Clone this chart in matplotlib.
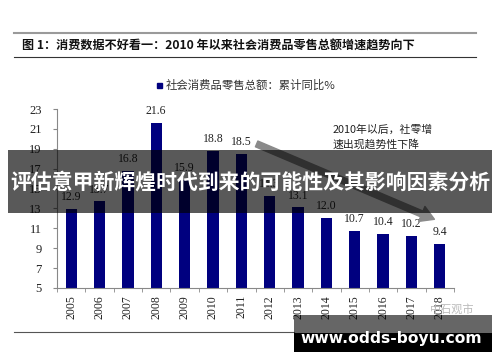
import numpy as np
import matplotlib
matplotlib.use('Agg')
import matplotlib.pyplot as plt
from matplotlib.lines import Line2D
from matplotlib.patches import Rectangle, FancyArrowPatch

plt.rcParams['font.family'] = ['Noto Sans CJK SC', 'DejaVu Sans']

# data
years = ['2005', '2006', '2007', '2008', '2009', '2010', '2011',
         '2012', '2013', '2014', '2015', '2016', '2017', '2018']
growth = [12.9, 13.7, 16.8, 21.6, 15.9, 18.8, 18.5,
          14.3, 13.1, 12.0, 10.7, 10.4, 10.2, 9.4]
yticks = [5, 7, 9, 11, 13, 15, 17, 19, 21, 23]

title = '图 1：消费数据不好看一：2010 年以来社会消费品零售总额增速趋势向下'
legend_label = '社会消费品零售总额：累计同比%'
note = '2010年以后，社零增\n速出现趋势性下降'
banner = '评估意甲新辉煌时代到来的可能性及其影响因素分析'
site = 'www.odds-boyu.com'

W, H = 500, 362
def fx(x):
    return x / W
def fy(y):
    return 1 - y / H

fig = plt.figure(figsize=(5, 3.62), dpi=100)
fig.patch.set_facecolor('white')
ax = fig.add_axes([fx(57), fy(288), fx(454) - fx(57), fy(109) - fy(288)])

navy = '#00007f'
xs = np.arange(len(years))
ax.bar(xs, growth, width=0.4, color=navy, zorder=2)
for x, v in zip(xs, growth):
    ax.annotate('%.1f' % v, (x, v), xytext=(0, 8.6), textcoords='offset points',
                ha='center', va='center', fontsize=8.5,
                family='Liberation Serif', color='#222222')

ax.set_xlim(-0.5, len(years) - 0.5)
ax.set_ylim(5, 23)
ax.set_yticks(yticks)
ax.set_yticklabels([str(t) for t in yticks], family='Liberation Serif',
                   fontsize=9, color='#222222')
ax.set_xticks(xs)
ax.set_xticklabels(years, rotation=90, family='Liberation Serif',
                   fontsize=8.5, color='#222222')
ax.tick_params(axis='x', length=0, pad=5)
ax.set_xticks(np.arange(-0.5, len(years), 1), minor=True)
ax.tick_params(axis='x', which='minor', length=3, color='#888888', direction='out')
ax.tick_params(axis='y', length=3, color='#888888', direction='out', pad=8)
for s in ['top', 'right']:
    ax.spines[s].set_visible(False)
ax.spines['left'].set_color('#888888')
ax.spines['bottom'].set_color('#888888')
ax.spines['left'].set_linewidth(0.8)
ax.spines['bottom'].set_linewidth(0.8)

# trend arrow
arr = FancyArrowPatch((6.45, 19.6), (12.9, 11.8),
                      arrowstyle='simple,head_width=1.3,head_length=1.1,tail_width=0.5',
                      mutation_scale=9, color='#8a8a8a', clip_on=False, zorder=3)
ax.add_patch(arr)
ax.text(9.2, 20.2, note, fontsize=7.8, color='#222222', va='center', ha='left',
        linespacing=1.5)

# header
fig.add_artist(Line2D([fx(14), fx(476)], [fy(33), fy(33)], color='#9a9a9a', lw=1.5))
fig.add_artist(Line2D([fx(14), fx(476)], [fy(57), fy(57)], color='#333333', lw=0.8))
fig.text(fx(22), fy(46), title, fontsize=8.7, fontweight='bold', va='center',
         ha='left', color='#111111')

# legend
fig.add_artist(Rectangle((fx(157), fy(88)), 5 / W, 5 / H, color=navy,
                         transform=fig.transFigure))
fig.text(fx(166), fy(85), legend_label, fontsize=8.2, va='center', ha='left',
         color='#333333')

# footer line and faint watermark
fig.add_artist(Line2D([fx(14), fx(294)], [fy(332), fy(332)], color='#555555', lw=0.8))
fig.text(fx(452), fy(309), '中石观市', fontsize=8, color='#bbbbbb', va='center', ha='center')

# overlay banner
fig.add_artist(Rectangle((fx(8), fy(213)), (492 - 8) / W, (213 - 150) / H,
                         facecolor='black', alpha=0.65, edgecolor='none',
                         transform=fig.transFigure, zorder=10))
fig.text(0.5, fy(182), banner, fontsize=15, fontweight='bold', color='white',
         ha='center', va='center', zorder=11)

# site box
fig.add_artist(Rectangle((fx(294), fy(333)), (492 - 294) / W, (333 - 315) / H,
                         facecolor='black', alpha=0.6, edgecolor='none',
                         transform=fig.transFigure, zorder=10))
fig.add_artist(Rectangle((fx(294), fy(352)), (492 - 294) / W, (352 - 333) / H,
                         facecolor='black', edgecolor='none',
                         transform=fig.transFigure, zorder=10))
fig.text(fx(391), fy(338), site, fontsize=11.2, fontweight='bold', color='white',
         ha='center', va='center', family='DejaVu Sans', zorder=11)

fig.savefig('out.png', dpi=100)
